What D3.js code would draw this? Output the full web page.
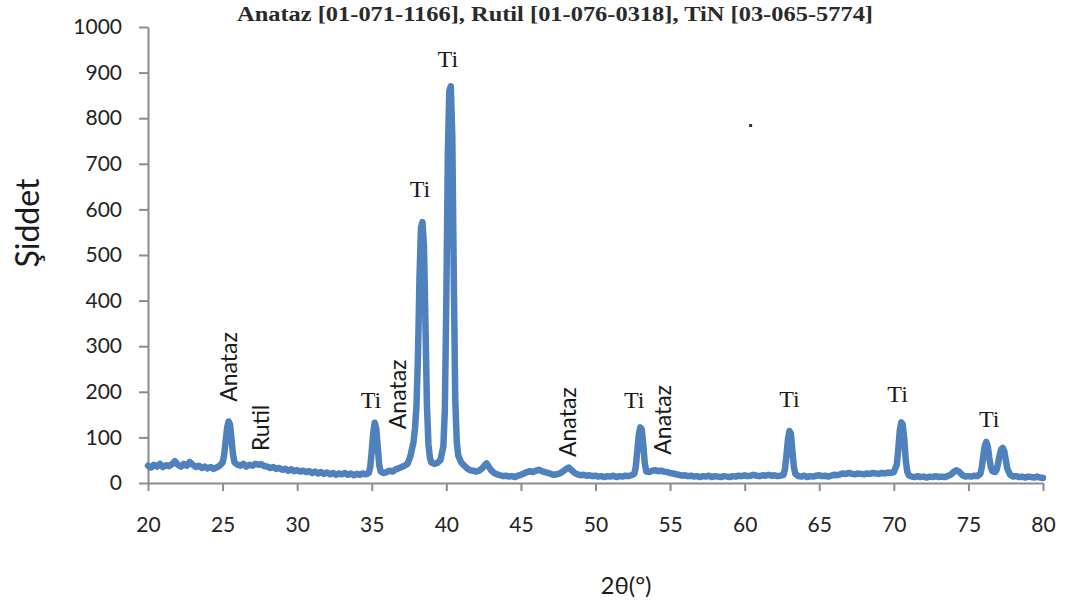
<!DOCTYPE html>
<html>
<head>
<meta charset="utf-8">
<script src="https://cdn.jsdelivr.net/npm/d3@7"></script>
<style>
    body { margin: 0; background: #fff; }
    .axis path, .axis line { stroke: #8c8c8c; stroke-width: 2; }
    .axis text { font-family: Lato, "Open Sans", sans-serif; fill: #222; }
</style>
</head>
<body>
<svg id="chart"></svg>
<script>
// 2theta / intensity
var twoTheta = [
    20.0, 20.2, 20.4, 20.6, 20.8, 21.0, 21.2, 21.4, 21.6, 21.8, 22.0, 22.2, 22.4, 22.6, 22.8, 23.0, 23.2, 23.4, 23.6, 23.8,
    24.0, 24.2, 24.4, 24.6, 24.8, 25.0, 25.1, 25.2, 25.3, 25.4, 25.5, 25.6, 25.7, 25.8, 26.0, 26.2, 26.4, 26.6, 26.8,
    27.0, 27.2, 27.4, 27.6, 27.8, 28.0, 28.2, 28.4, 28.6, 28.8, 29.0, 29.2, 29.4, 29.6, 29.8,
    30.0, 30.2, 30.4, 30.6, 30.8, 31.0, 31.2, 31.4, 31.6, 31.8, 32.0, 32.2, 32.4, 32.6, 32.8,
    33.0, 33.2, 33.4, 33.6, 33.8, 34.0, 34.2, 34.4, 34.6, 34.8, 34.9, 35.0, 35.1, 35.2, 35.3, 35.4, 35.5, 35.6, 35.8,
    36.0, 36.2, 36.4, 36.6, 36.8, 37.0, 37.2, 37.4, 37.6, 37.8, 37.9, 38.0, 38.1, 38.2, 38.3, 38.4, 38.5, 38.6, 38.7, 38.8, 38.9,
    39.0, 39.2, 39.4, 39.6, 39.8, 39.9, 40.0, 40.1, 40.2, 40.3, 40.4, 40.5, 40.6, 40.7, 40.8,
    41.0, 41.2, 41.4, 41.6, 41.8, 42.0, 42.2, 42.4, 42.6, 42.7, 42.8, 43.0, 43.2, 43.4, 43.6, 43.8,
    44.0, 44.2, 44.4, 44.6, 44.8, 45.0, 45.2, 45.4, 45.6, 45.8, 46.0, 46.2, 46.4, 46.6, 46.8,
    47.0, 47.2, 47.4, 47.6, 47.8, 48.0, 48.2, 48.4, 48.6, 48.8, 49.0, 49.2, 49.4, 49.6, 49.8,
    50.0, 50.2, 50.4, 50.6, 50.8, 51.0, 51.2, 51.4, 51.6, 51.8, 52.0, 52.2, 52.4, 52.6, 52.7, 52.8, 52.9,
    53.0, 53.1, 53.2, 53.3, 53.4, 53.6, 53.8, 54.0, 54.2, 54.4, 54.6, 54.8,
    55.0, 55.2, 55.4, 55.6, 55.8, 56.0, 56.2, 56.4, 56.6, 56.8, 57.0, 57.2, 57.4, 57.6, 57.8,
    58.0, 58.2, 58.4, 58.6, 58.8, 59.0, 59.2, 59.4, 59.6, 59.8, 60.0, 60.2, 60.4, 60.6, 60.8,
    61.0, 61.2, 61.4, 61.6, 61.8, 62.0, 62.2, 62.4, 62.6, 62.7, 62.8, 62.9, 63.0, 63.1, 63.2, 63.3, 63.4, 63.6, 63.8,
    64.0, 64.2, 64.4, 64.6, 64.8, 65.0, 65.2, 65.4, 65.6, 65.8, 66.0, 66.2, 66.4, 66.6, 66.8,
    67.0, 67.2, 67.4, 67.6, 67.8, 68.0, 68.2, 68.4, 68.6, 68.8, 69.0, 69.2, 69.4, 69.6, 69.8,
    70.0, 70.2, 70.3, 70.4, 70.5, 70.6, 70.7, 70.8, 70.9, 71.0, 71.2, 71.4, 71.6, 71.8,
    72.0, 72.2, 72.4, 72.6, 72.8, 73.0, 73.2, 73.4, 73.6, 73.8, 74.0, 74.2, 74.4, 74.6, 74.8,
    75.0, 75.2, 75.4, 75.6, 75.8, 75.9, 76.0, 76.1, 76.2, 76.3, 76.4, 76.5, 76.6, 76.8, 76.9,
    77.0, 77.1, 77.2, 77.3, 77.4, 77.5, 77.6, 77.8, 78.0, 78.2, 78.4, 78.6, 78.8,
    79.0, 79.2, 79.4, 79.6, 79.8, 80.0
];
var intensity = [
    38, 34, 40, 36, 42, 35, 39, 37, 41, 48, 40, 36, 42, 38, 46, 40, 35, 38, 33, 36,
    32, 35, 31, 34, 38, 45, 60, 90, 120, 135, 128, 95, 62, 45, 40, 38, 42, 36, 40,
    38, 42, 40, 41, 37, 36, 33, 35, 31, 33, 29, 31, 27, 30, 26,
    28, 25, 27, 24, 26, 22, 25, 21, 24, 20, 23, 19, 22, 18, 21,
    19, 22, 18, 21, 17, 20, 18, 21, 19, 22, 35, 70, 110, 132, 120, 80, 40, 25, 22,
    24, 27, 25, 30, 32, 35, 38, 42, 60, 90, 120, 170, 280, 450, 560, 572, 520, 350, 170, 85, 55,
    45, 42, 44, 50, 80, 160, 400, 720, 860, 870, 760, 450, 180, 90, 60,
    45, 38, 32, 28, 27, 25, 27, 32, 40, 43, 38, 28, 22, 19, 17, 15,
    16, 14, 15, 13, 16, 18, 21, 24, 26, 24, 27, 29, 26, 24, 22,
    20, 18, 19, 21, 25, 30, 34, 28, 22, 19, 17, 18, 16, 17, 15,
    16, 14, 15, 13, 15, 14, 16, 13, 15, 14, 16, 15, 17, 20, 35, 70, 105,
    122, 118, 85, 45, 25, 24, 27, 28, 26, 27, 25, 24,
    22, 21, 19, 18, 16, 17, 15, 16, 14, 15, 13, 15, 14, 16, 13,
    15, 14, 13, 15, 14, 13, 15, 14, 16, 15, 17, 15, 16, 18, 16,
    15, 17, 16, 18, 16, 17, 15, 16, 18, 30, 60, 95, 114, 108, 70, 35, 20, 15, 14,
    16, 13, 15, 14, 16, 17, 15, 16, 14, 16, 18, 17, 19, 21, 20,
    22, 20, 19, 21, 20, 19, 21, 20, 22, 21, 20, 22, 21, 23, 22,
    24, 40, 75, 115, 133, 128, 95, 50, 25, 17, 14, 13, 15, 13,
    14, 12, 14, 13, 15, 13, 14, 13, 15, 18, 24, 28, 24, 17, 14,
    15, 14, 16, 15, 20, 35, 60, 82, 90, 80, 55, 35, 26, 24, 30,
    45, 62, 74, 77, 70, 52, 32, 18, 14, 15, 13, 14, 12,
    14, 13, 12, 14, 12, 11
];

var xTicks = d3.range(20, 81, 5);
var yTicks = d3.range(0, 1001, 100);

// phase labels: text, 2theta, intensity, vertical?
var labelText = ["Anataz", "Rutil", "Ti", "Anataz", "Ti", "Ti", "Anataz", "Ti", "Anataz", "Ti", "Ti", "Ti"];
var labelTheta = [25.4, 27.6, 34.95, 36.75, 38.23, 40.1, 48.15, 52.6, 54.5, 63.0, 70.25, 76.4];
var labelInt = [178, 70, 165, 118, 627, 913, 57, 164, 62, 167, 178, 122];
var labelVertical = [true, true, false, true, false, false, true, false, true, false, false, false];

var titleText = "Anataz [01-071-1166], Rutil [01-076-0318], TiN [03-065-5774]";

var w = 1068, h = 612,
    margin = {top: 27, right: 25, bottom: 129, left: 148},
    width = w - margin.left - margin.right,
    height = h - margin.top - margin.bottom;

var svg = d3.select("#chart").attr("width", w).attr("height", h);
var g = svg.append("g").attr("transform", "translate(" + margin.left + "," + margin.top + ")");

var x = d3.scaleLinear().domain([20, 80]).range([0, width]);
var y = d3.scaleLinear().domain([0, 1000]).range([height, 0]);

var data = twoTheta.map(function (d, i) {
    return {t: d, v: intensity[i]};
});

g.append("g")
    .attr("class", "axis axis--y")
    .call(d3.axisLeft(y).tickValues(yTicks).tickFormat(d3.format("d")).tickSize(9).tickPadding(17).tickSizeOuter(0))
    .selectAll("text").style("font-size", "21px");

g.append("g")
    .attr("class", "axis axis--x")
    .attr("transform", "translate(0," + height + ")")
    .call(d3.axisBottom(x).tickValues(xTicks).tickSize(8).tickPadding(26).tickSizeOuter(0))
    .selectAll("text").style("font-size", "21px");

var line = d3.line()
    .x(function (d) { return x(d.t); })
    .y(function (d) { return y(d.v); });

g.append("path")
    .datum(data)
    .attr("d", line)
    .attr("fill", "none")
    .attr("stroke", "#4f81bd")
    .attr("stroke-width", 6.5)
    .attr("stroke-linejoin", "round")
    .attr("stroke-linecap", "round");

// peak labels
labelText.forEach(function (d, i) {
    var px = x(labelTheta[i]), py = y(labelInt[i]);
    if (labelVertical[i]) {
        g.append("text")
            .attr("transform", "translate(" + px + "," + py + ") rotate(-90)")
            .attr("dy", "0.35em")
            .style("font-family", "Lato, 'Open Sans', sans-serif")
            .style("font-size", "23px")
            .style("fill", "#1a1a1a")
            .text(d);
    } else {
        g.append("text")
            .attr("x", px)
            .attr("y", py)
            .attr("text-anchor", "middle")
            .style("font-family", "'Liberation Serif', 'DejaVu Serif', serif")
            .style("font-size", "24px")
            .style("fill", "#1a1a1a")
            .text(d);
    }
});

// stray dot in the original figure
g.append("rect")
    .attr("x", x(60.4) - 1.5)
    .attr("y", y(784) - 1.5)
    .attr("width", 3)
    .attr("height", 3)
    .attr("fill", "#333");

svg.append("text")
    .attr("x", 555)
    .attr("y", 21)
    .attr("text-anchor", "middle")
    .attr("textLength", 636)
    .attr("lengthAdjust", "spacingAndGlyphs")
    .style("font-family", "'Liberation Serif', serif")
    .style("font-size", "20px")
    .style("font-weight", "bold")
    .style("fill", "#2a2a2a")
    .text(titleText);

svg.append("text")
    .attr("transform", "translate(39,223) rotate(-90)")
    .attr("text-anchor", "middle")
    .style("font-family", "Lato, 'Open Sans', sans-serif")
    .style("font-size", "32px")
    .style("fill", "#1a1a1a")
    .text("Şiddet");

svg.append("text")
    .attr("x", 626)
    .attr("y", 594)
    .attr("text-anchor", "middle")
    .style("font-family", "Lato, 'Open Sans', sans-serif")
    .style("font-size", "24px")
    .style("fill", "#1a1a1a")
    .text("2θ(°)");
</script>
</body>
</html>
